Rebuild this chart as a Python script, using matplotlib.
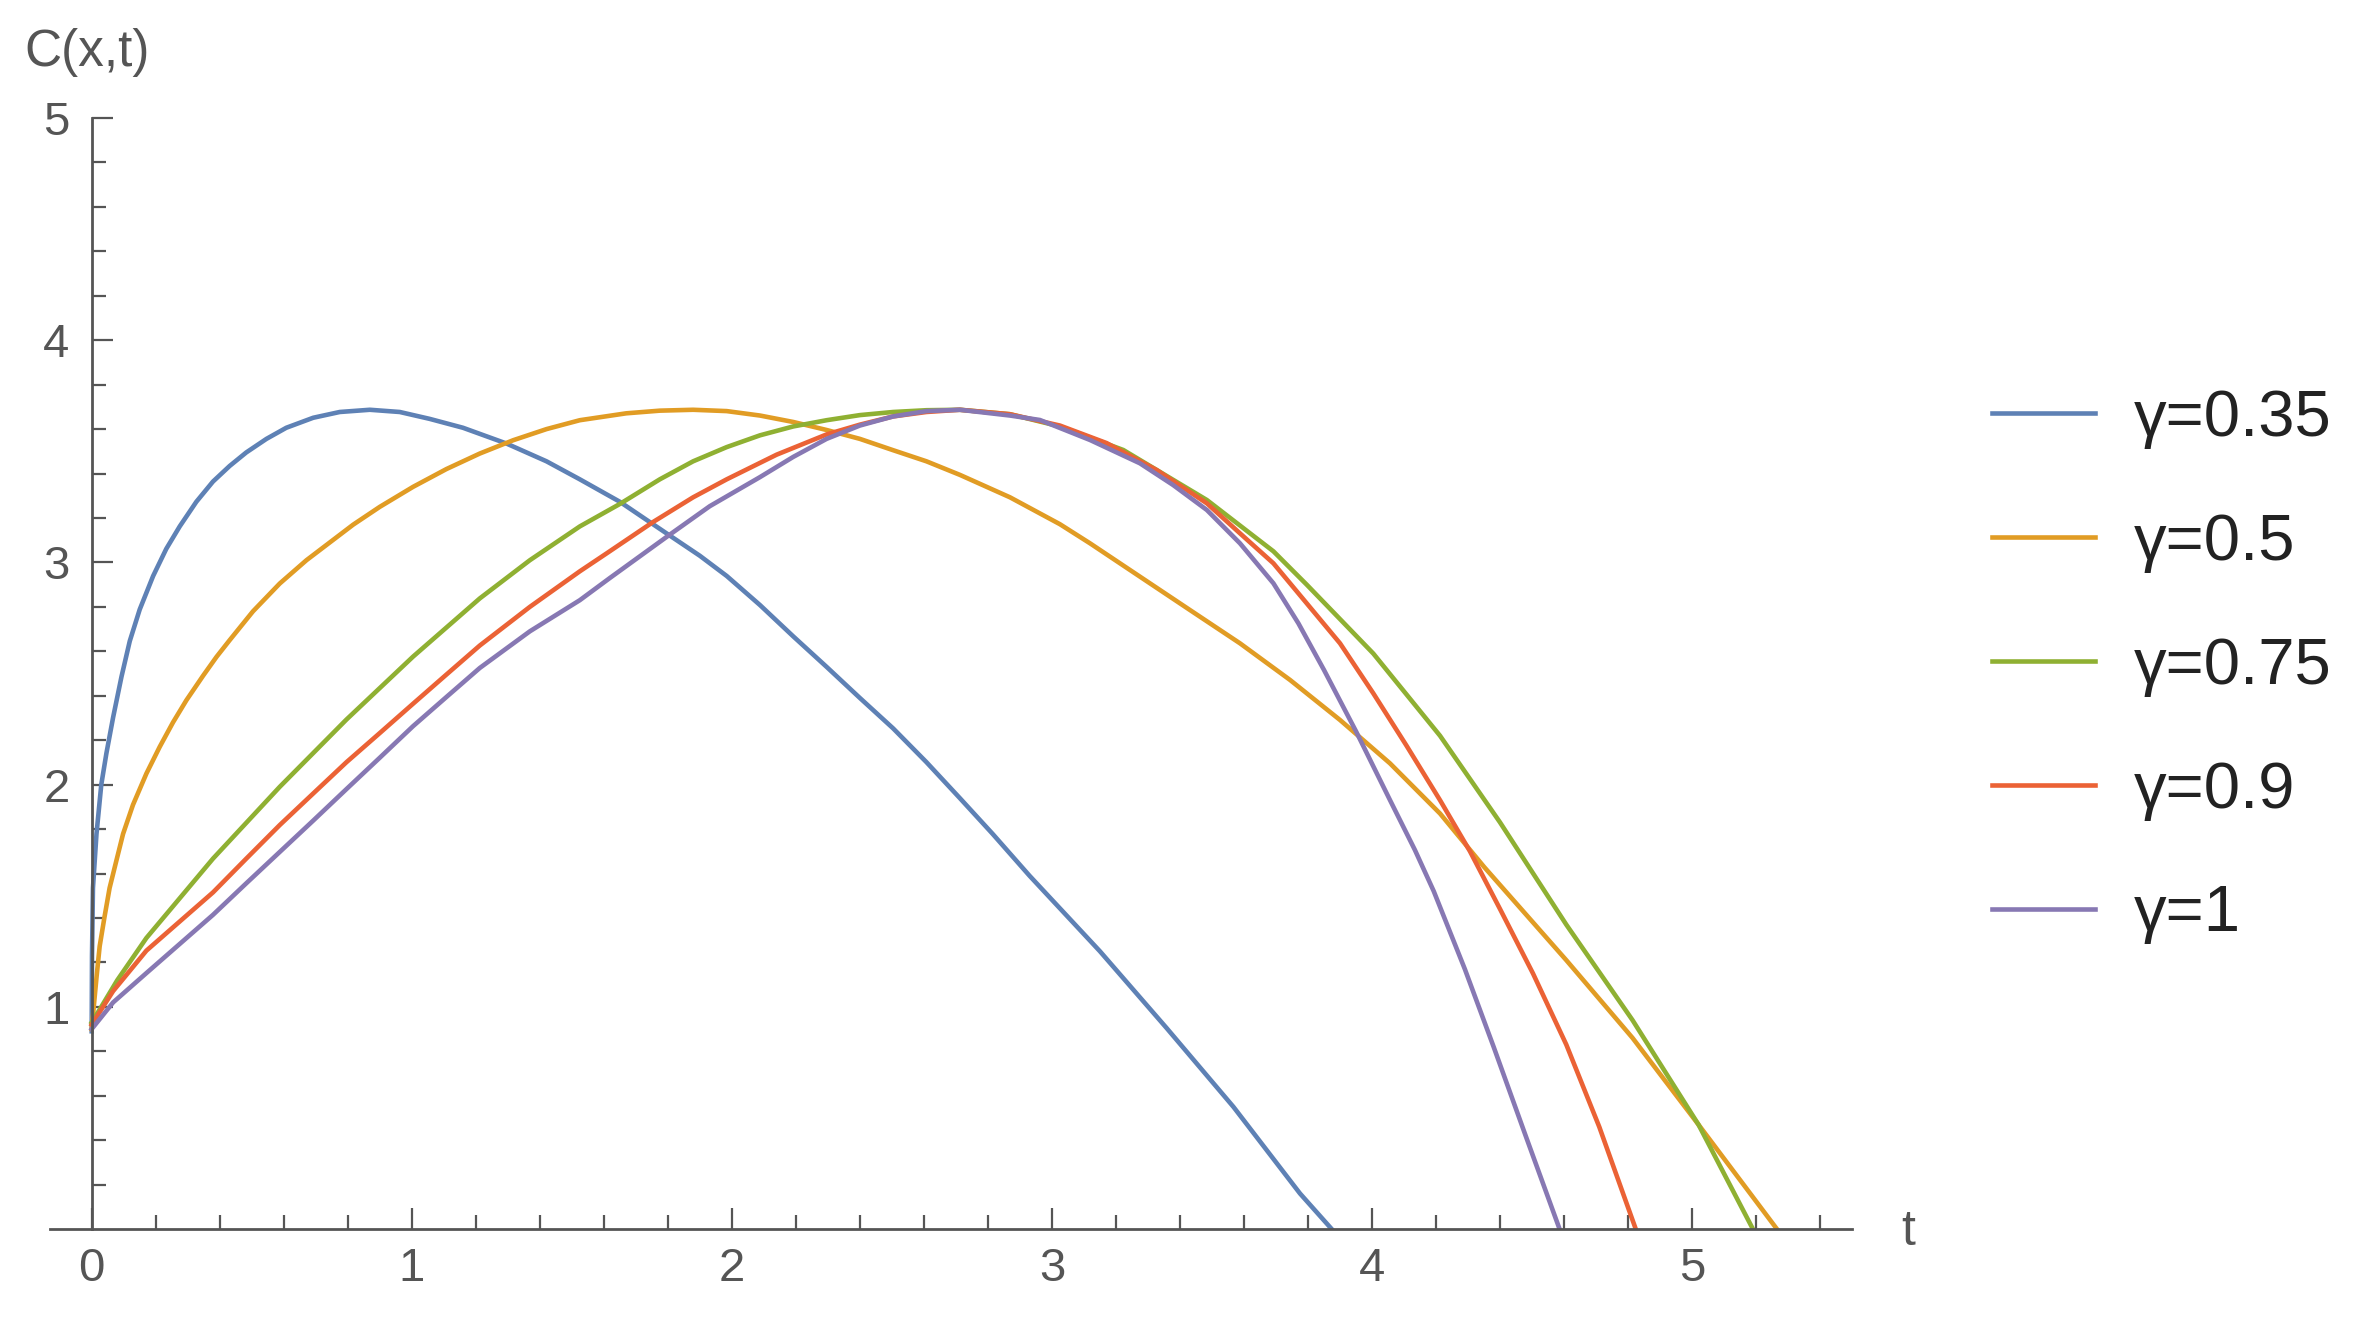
import matplotlib
matplotlib.use("Agg")
import matplotlib.pyplot as plt
from matplotlib.ticker import FixedLocator

plt.rcParams['font.family'] = ['Liberation Sans', 'DejaVu Sans']

# values
t_035 = [0, 0.001, 0.004, 0.015, 0.030, 0.046, 0.067, 0.093, 0.119, 0.15, 0.192, 0.233, 0.275,
         0.327, 0.379, 0.431, 0.483, 0.546, 0.608, 0.692, 0.775, 0.869, 0.9625, 1.056, 1.160,
         1.296, 1.421, 1.525, 1.65, 1.733, 1.806, 1.90, 1.984, 2.088, 2.192, 2.296, 2.4, 2.504,
         2.608, 2.7125, 2.815, 2.93, 3.15, 3.358, 3.567, 3.775, 3.874]
c_035 = [0.89, 1.23, 1.535, 1.778, 2.0, 2.141, 2.303, 2.485, 2.646, 2.788, 2.939, 3.061, 3.162,
         3.273, 3.364, 3.434, 3.495, 3.556, 3.606, 3.651, 3.677, 3.687, 3.677, 3.646, 3.606,
         3.535, 3.455, 3.374, 3.273, 3.192, 3.121, 3.03, 2.939, 2.808, 2.667, 2.53, 2.39, 2.253,
         2.101, 1.939, 1.778, 1.59, 1.25, 0.905, 0.55, 0.16, 0.0]

t_05 = [0, 0.015, 0.025, 0.040, 0.056, 0.077, 0.098, 0.129, 0.171, 0.2125, 0.254, 0.296, 0.348,
        0.39, 0.431, 0.504, 0.5875, 0.671, 0.744, 0.817, 0.9, 1.004, 1.108, 1.2125, 1.317, 1.421,
        1.525, 1.67, 1.775, 1.879, 1.984, 2.088, 2.192, 2.296, 2.4, 2.504, 2.608, 2.7125, 2.869,
        3.025, 3.119, 3.275, 3.431, 3.5875, 3.744, 3.9, 4.056, 4.2125, 4.35, 4.607, 4.814, 5.02,
        5.265]
c_05 = [0.90, 1.131, 1.273, 1.404, 1.535, 1.657, 1.778, 1.909, 2.05, 2.17, 2.28, 2.38, 2.49,
        2.575, 2.65, 2.78, 2.905, 3.01, 3.09, 3.17, 3.25, 3.34, 3.42, 3.49, 3.55, 3.60,
        3.64, 3.671, 3.683, 3.687, 3.681, 3.661, 3.632, 3.596, 3.556, 3.505, 3.455, 3.394, 3.293,
        3.172, 3.086, 2.936, 2.786, 2.636, 2.471, 2.291, 2.096, 1.87, 1.63, 1.21, 0.86, 0.47,
        0.0]

t_075 = [0, 0.03, 0.08, 0.171, 0.379, 0.5875, 0.796, 1.004, 1.2125, 1.369, 1.525, 1.65, 1.775,
         1.879, 1.984, 2.088, 2.192, 2.296, 2.4, 2.504, 2.608, 2.7125, 2.869, 3.025, 3.223,
         3.484, 3.692, 3.796, 4.004, 4.2125, 4.40, 4.607, 4.814, 5.02, 5.19]
c_075 = [0.93, 1.0, 1.12, 1.31, 1.667, 1.99, 2.293, 2.576, 2.838, 3.01, 3.162, 3.263, 3.374,
         3.455, 3.519, 3.572, 3.612, 3.640, 3.663, 3.677, 3.685, 3.687, 3.667, 3.612, 3.506,
         3.281, 3.05, 2.90, 2.59, 2.22, 1.83, 1.37, 0.94, 0.47, 0.0]

t_09 = [0, 0.067, 0.171, 0.275, 0.379, 0.483, 0.5875, 0.692, 0.796, 0.9, 1.004, 1.108, 1.2125,
        1.369, 1.525, 1.608, 1.754, 1.879, 1.984, 2.14, 2.296, 2.4, 2.504, 2.608, 2.7125, 2.869,
        3.025, 3.171, 3.327, 3.484, 3.5875, 3.692, 3.796, 3.9, 4.004, 4.108, 4.2125, 4.306,
        4.40, 4.503, 4.607, 4.71, 4.824]
c_09 = [0.92, 1.071, 1.253, 1.384, 1.515, 1.667, 1.818, 1.96, 2.101, 2.232, 2.364, 2.495, 2.626,
        2.80, 2.96, 3.04, 3.182, 3.293, 3.374, 3.485, 3.576, 3.62, 3.657, 3.677, 3.687, 3.667,
        3.616, 3.537, 3.416, 3.266, 3.131, 2.996, 2.816, 2.636, 2.411, 2.175, 1.93, 1.70,
        1.44, 1.15, 0.83, 0.46, 0.0]

t_1 = [0, 0.067, 0.171, 0.275, 0.379, 0.483, 0.5875, 0.692, 0.796, 0.9, 1.004, 1.108, 1.2125,
       1.369, 1.525, 1.619, 1.806, 1.931, 2.088, 2.192, 2.296, 2.4, 2.504, 2.608, 2.7125, 2.869,
       2.9625, 3.119, 3.275, 3.379, 3.484, 3.5875, 3.692, 3.77, 3.85, 3.95, 4.056, 4.134, 4.193,
       4.29, 4.38, 4.48, 4.586]
c_1 = [0.90, 1.02, 1.152, 1.283, 1.414, 1.556, 1.697, 1.838, 1.98, 2.121, 2.263, 2.394, 2.525,
       2.69, 2.83, 2.93, 3.125, 3.253, 3.384, 3.475, 3.556, 3.616, 3.657, 3.681, 3.687, 3.661,
       3.641, 3.551, 3.446, 3.348, 3.236, 3.086, 2.906, 2.726, 2.516, 2.24, 1.931, 1.706, 1.52,
       1.17, 0.82, 0.42, 0.0]

labels = ['γ=0.35', 'γ=0.5', 'γ=0.75', 'γ=0.9', 'γ=1']
colors = ['#5E81B5', '#E19C24', '#8FB032', '#EB6235', '#8778B3']

x_major = [0, 1, 2, 3, 4, 5]
y_major = [1, 2, 3, 4, 5]

gray = '#555555'

fig = plt.figure(figsize=(23.73, 13.2), dpi=100)
ax = fig.add_axes([0.0211, 0.0689, 0.7594, 0.8417])

series = [(t_035, c_035), (t_05, c_05), (t_075, c_075), (t_09, c_09), (t_1, c_1)]
for (t, c), lab, col in zip(series, labels, colors):
    ax.plot(t, c, color=col, lw=3.3, label=lab, solid_joinstyle='round')

ax.set_xlim(-0.13, 5.5)
ax.set_ylim(0, 5)

for s in ['top', 'right']:
    ax.spines[s].set_visible(False)
ax.spines['left'].set_position(('data', 0))
ax.spines['left'].set_bounds(0, 5)
for s in ['left', 'bottom']:
    ax.spines[s].set_color(gray)
    ax.spines[s].set_linewidth(2)

ax.xaxis.set_major_locator(FixedLocator(x_major))
ax.yaxis.set_major_locator(FixedLocator(y_major))
ax.xaxis.set_minor_locator(FixedLocator([i * 0.2 for i in range(1, 28) if i % 5]))
ax.yaxis.set_minor_locator(FixedLocator([i * 0.2 for i in range(1, 25) if i % 5]))
ax.set_xticklabels([str(v) for v in x_major])
ax.set_yticklabels([str(v) for v in y_major])

ax.tick_params(which='both', direction='in', color=gray, width=1.6, labelcolor=gray,
               labelsize=34)
ax.tick_params(which='major', length=15)
ax.tick_params(which='minor', length=10)
ax.tick_params(axis='x', which='major', pad=13)
ax.tick_params(axis='y', which='major', pad=16)

fig.text(0.0101, 0.960, 'C(x,t)', fontsize=37, color=gray, va='center', ha='left')
fig.text(0.801, 0.067, 't', fontsize=36, color=gray, va='center', ha='left')

leg = fig.legend(loc='upper left', bbox_to_anchor=(0.8394, 0.7056), frameon=False,
                 fontsize=47, handlelength=1.58, handletextpad=0.6, labelspacing=0.98,
                 borderpad=0, borderaxespad=0)
for txt in leg.get_texts():
    txt.set_color('#222222')
for ln in leg.get_lines():
    ln.set_linewidth(3.3)

fig.savefig('out.png', dpi=100, facecolor='white')
